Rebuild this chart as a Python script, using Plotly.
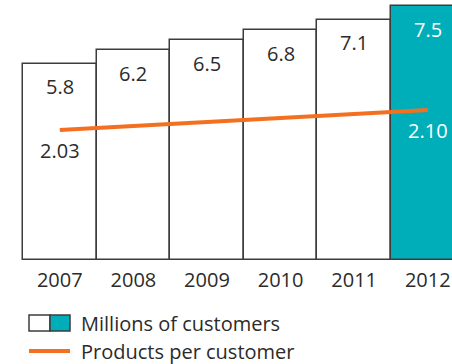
import plotly.graph_objects as go

years = ["2007", "2008", "2009", "2010", "2011", "2012"]
customers = [5.8, 6.2, 6.5, 6.8, 7.1, 7.5]
customer_labels = ["5.8", "6.2", "6.5", "6.8", "7.1", "7.5"]
products = [2.03, 2.044, 2.058, 2.072, 2.086, 2.10]
product_labels = ["2.03", "", "", "", "", "2.10"]

TEAL = "#00aeb9"
ORANGE = "#f37021"
DARK = "#2b2b2b"
FONT = "Open Sans"
FS = 20

bar_colors = ["white"] * (len(years) - 1) + [TEAL]
label_colors = [DARK] * (len(years) - 1) + ["white"]

fig = go.Figure()
fig.add_trace(go.Bar(
    x=list(range(len(years))), y=customers,
    marker=dict(color=bar_colors, line=dict(color="#3c3c3c", width=1.5)),
    showlegend=False, hoverinfo="skip",
))
fig.add_trace(go.Scatter(
    x=list(range(len(years))), y=products, yaxis="y2", mode="lines",
    line=dict(color=ORANGE, width=4), showlegend=False, hoverinfo="skip",
))

annotations = []
for i, (v, lab) in enumerate(zip(customers, customer_labels)):
    annotations.append(dict(x=i, y=v, xref="x", yref="y", text=lab, showarrow=False,
                            yshift=-23, font=dict(color=label_colors[i], size=FS, family=FONT)))
for i, (v, lab) in enumerate(zip(products, product_labels)):
    if lab:
        annotations.append(dict(x=i, y=v, xref="x", yref="y2", text=lab, showarrow=False,
                                yshift=-20, font=dict(color=label_colors[i], size=FS, family=FONT)))

# manual legend (paper coords: plot area spans x 0..452 px, y 0..260 px)
W, H = 452.0, 260.0
def px(x):
    return x / W
def py(y):
    return (H - y) / H

shapes = [
    dict(type="rect", xref="paper", yref="paper", x0=px(29), x1=px(50), y0=py(331), y1=py(315),
         fillcolor="white", line=dict(color="#3c3c3c", width=1.5)),
    dict(type="rect", xref="paper", yref="paper", x0=px(50), x1=px(70), y0=py(331), y1=py(315),
         fillcolor=TEAL, line=dict(color="#3c3c3c", width=1.5)),
    dict(type="line", xref="paper", yref="paper", x0=px(29), x1=px(70), y0=py(351), y1=py(351),
         line=dict(color=ORANGE, width=4)),
]
annotations.append(dict(x=px(79), y=py(323), xref="paper", yref="paper", text="Millions of customers",
                        showarrow=False, xanchor="left", yanchor="middle",
                        font=dict(color=DARK, size=FS, family=FONT)))
annotations.append(dict(x=px(79), y=py(351), xref="paper", yref="paper", text="Products per customer",
                        showarrow=False, xanchor="left", yanchor="middle",
                        font=dict(color=DARK, size=FS, family=FONT)))

fig.update_layout(
    width=452, height=364,
    margin=dict(l=0, r=0, t=0, b=104),
    paper_bgcolor="white", plot_bgcolor="white",
    bargap=0,
    xaxis=dict(range=[-0.8125, 5.329], tickmode="array", tickvals=list(range(len(years))),
               ticktext=years, showgrid=False, zeroline=False, showline=False, ticks="",
               ticklabelstandoff=6,
               tickfont=dict(size=FS, color=DARK, family=FONT), fixedrange=True),
    yaxis=dict(range=[0, 7.69], showgrid=False, zeroline=False, showticklabels=False, showline=False),
    yaxis2=dict(range=[1.575, 2.485], overlaying="y", showgrid=False, zeroline=False,
                showticklabels=False, showline=False),
    annotations=annotations,
    shapes=shapes,
)

fig.write_html("out.html", config={"displayModeBar": False},
               post_script="document.body.style.margin='0px';document.body.style.overflow='hidden';")
